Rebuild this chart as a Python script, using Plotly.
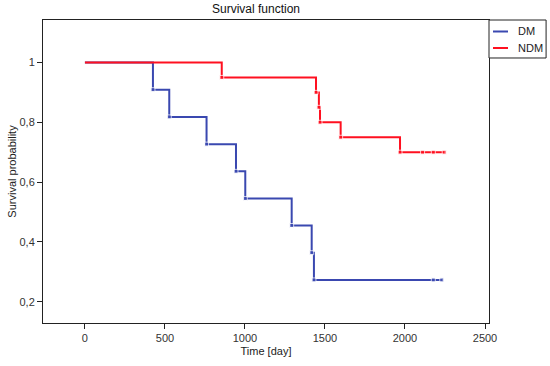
import plotly.graph_objects as go

# Kaplan-Meier step data
dm_time = [0, 425, 527, 760, 944, 1002, 1292, 1417, 1431, 2177, 2230]
dm_surv = [1.0, 0.909, 0.818, 0.727, 0.636, 0.545, 0.455, 0.364, 0.273, 0.273, 0.273]

ndm_time = [0, 855, 1444, 1462, 1469, 1598, 1969, 2110, 2177, 2245]
ndm_surv = [1.0, 0.95, 0.90, 0.85, 0.80, 0.75, 0.70, 0.70, 0.70, 0.70]

series_names = ["DM", "NDM"]
series_colors = ["#3a48b0", "#ff1020"]

x_ticks = [0, 500, 1000, 1500, 2000, 2500]
y_ticks = [0.2, 0.4, 0.6, 0.8, 1.0]

FONT = "Liberation Sans, Arial, sans-serif"

fig = go.Figure()
for name, t, s, c in [(series_names[0], dm_time, dm_surv, series_colors[0]),
                      (series_names[1], ndm_time, ndm_surv, series_colors[1])]:
    sizes = [0] + [4] * (len(t) - 1)
    fig.add_trace(go.Scatter(
        x=t, y=s, name=name, mode="lines+markers", line_shape="hv",
        line=dict(color=c, width=2),
        marker=dict(color=c, size=sizes, symbol="square"),
        showlegend=False,
    ))

# custom compact legend (box to the right of the plot area)
lx0, lx1 = 1.0, 1.128
ly0, ly1 = 0.8746, 1.0
shapes = [dict(type="rect", xref="paper", yref="paper", x0=lx0, x1=lx1, y0=ly0, y1=ly1,
               line=dict(color="#222", width=1), fillcolor="white", layer="above")]
annotations = []
rows_y = [1 - 11.5 / 303, 1 - 28 / 303]
for name, c, yy in zip(series_names, series_colors, rows_y):
    shapes.append(dict(type="line", xref="paper", yref="paper",
                       x0=(493 - 43) / 446, x1=(508 - 43) / 446, y0=yy, y1=yy,
                       line=dict(color=c, width=2)))
    annotations.append(dict(xref="paper", yref="paper", x=(516 - 43) / 446, y=yy,
                            xanchor="left", yanchor="middle", text=name, showarrow=False,
                            font=dict(family=FONT, size=11, color="#222")))

fig.update_layout(
    width=550, height=366,
    margin=dict(l=43, r=61, t=20, b=43, autoexpand=False),
    paper_bgcolor="white", plot_bgcolor="white",
    separators=", ",
    font=dict(family=FONT, size=11, color="#222"),
    title=dict(text="Survival function", x=256 / 550, xanchor="center",
               y=1 - 9 / 366, yanchor="middle", font=dict(family=FONT, size=12, color="#111")),
    shapes=shapes, annotations=annotations,
    showlegend=False,
)
fig.update_xaxes(
    range=[-262, 2525], tickvals=x_ticks, ticks="outside", ticklen=5, tickcolor="#222",
    showline=True, linecolor="#222", linewidth=1, mirror=True, showgrid=False, zeroline=False,
    title=dict(text="Time [day]", standoff=4, font=dict(size=11)), automargin=False,
    tickfont=dict(size=11, color="#333"),
)
fig.update_yaxes(
    range=[0.129, 1.142], tickvals=y_ticks, ticks="outside", ticklen=5, tickcolor="#222",
    showline=True, linecolor="#222", linewidth=1, mirror=True, showgrid=False, zeroline=False,
    title=dict(text="Survival probability", standoff=0, font=dict(size=11)), automargin=False,
    tickfont=dict(size=11, color="#333"),
)

fig.write_html("out.html", config={"displayModeBar": False},
               post_script="document.body.style.margin='0';document.body.style.padding='0';")
